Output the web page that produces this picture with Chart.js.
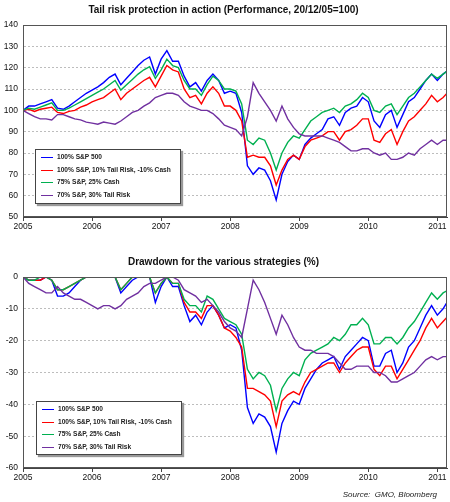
<!DOCTYPE html>
<html>
<head>
<meta charset="utf-8">
<script src="https://cdn.jsdelivr.net/npm/chart.js@4.4.1/dist/chart.umd.min.js"></script>
<style>
  body { margin: 0; background: #fff; font-family: "Liberation Sans", Arial, sans-serif; }
  #wrap { position: relative; width: 450px; height: 502px; overflow: hidden; }
  .pane { position: absolute; left: 0; }
  .legend { position: absolute; background: #fff; border: 1px solid #444; box-shadow: 2px 2px 1px #999;
            font: bold 6.6px "Liberation Sans", Arial, sans-serif; color: #222; padding-top: 1px; }
  .legend div { position: relative; height: 12.5px; line-height: 12.5px; padding-left: 21px; white-space: nowrap; }
  .legend span { position: absolute; left: 5px; top: 6px; width: 12px; border-top: 1px solid; }
  #src { position: absolute; right: 13px; top: 490px; font: italic 8px "Liberation Sans", Arial, sans-serif; color: #222; }
</style>
</head>
<body>
<div id="wrap">
  <div class="pane" style="top:0"><canvas id="perfChart" width="450" height="250"></canvas></div>
  <div class="pane" style="top:250px"><canvas id="ddChart" width="450" height="252"></canvas></div>
  <div class="legend" id="perfLegend" style="left:35px;top:149px;width:144px;height:52px"></div>
  <div class="legend" id="ddLegend" style="left:36px;top:401px;width:144px;height:51px"></div>
  <div id="src">Source:&nbsp; GMO, Bloomberg</div>
</div>
<script>
// month ends, Jan 2005 .. Mar 2011
const months = [
  '2005-01','2005-02','2005-03','2005-04','2005-05','2005-06','2005-07','2005-08','2005-09','2005-10','2005-11','2005-12',
  '2006-01','2006-02','2006-03','2006-04','2006-05','2006-06','2006-07','2006-08','2006-09','2006-10','2006-11','2006-12',
  '2007-01','2007-02','2007-03','2007-04','2007-05','2007-06','2007-07','2007-08','2007-09','2007-10','2007-11','2007-12',
  '2008-01','2008-02','2008-03','2008-04','2008-05','2008-06','2008-07','2008-08','2008-09','2008-10','2008-11','2008-12',
  '2009-01','2009-02','2009-03','2009-04','2009-05','2009-06','2009-07','2009-08','2009-09','2009-10','2009-11','2009-12',
  '2010-01','2010-02','2010-03','2010-04','2010-05','2010-06','2010-07','2010-08','2010-09','2010-10','2010-11','2010-12',
  '2011-01','2011-02','2011-03'
];
const yearTicks = [2005, 2006, 2007, 2008, 2009, 2010, 2011];
const seriesNames = ['100% S&P 500', '100% S&P, 10% Tail Risk, -10% Cash', '75% S&P, 25% Cash', '70% S&P, 30% Tail Risk'];

// Performance, 20/12/05 = 100
const perfSP500 = [
  100, 102, 102, 103, 104, 105, 101, 100.5, 102, 104, 106, 108,
  109.5, 111, 113, 115.5, 117, 112, 115, 118, 121, 123.5, 125, 117,
  124, 128, 123, 123, 116, 111, 113, 109, 114, 117, 114, 108,
  109, 108, 99, 74, 70, 73, 72, 67, 58, 70, 76, 79,
  77, 84, 87, 89, 91, 96, 97, 93, 99, 101, 102, 106,
  104, 95, 92, 98, 100, 92, 98, 104, 106, 110, 114, 117,
  114, 117, 119
];
const perfTail10 = [
  100, 100.5, 99.5, 100.5, 101, 101.5, 99, 98.5, 99.5, 100, 101.5, 102.5,
  104, 105, 106, 108, 110, 105, 108, 110, 112, 114, 115.5, 111,
  116, 121, 119, 118, 110, 106, 107, 103, 108, 111, 108, 102,
  102, 100, 95, 78, 79, 78, 78, 74, 65, 72, 77, 79,
  77, 83, 86, 87, 88, 90, 90, 86, 90, 91, 93, 96,
  96, 86, 85, 89, 91, 84, 90, 95, 97, 100, 103, 107,
  104, 106, 109
];
const perfCash25 = [
  100, 101, 100.5, 101.5, 102.5, 103.5, 100, 100, 101, 102.5, 104, 105.5,
  107, 108.5, 110, 112, 114, 109.5, 112, 114.5, 117, 119, 120.5, 115,
  119, 124, 121, 120, 114, 110, 110, 107, 112, 116, 114, 110,
  110, 109, 103, 86, 84, 87, 86, 80, 72, 80, 85, 88,
  87, 91, 95, 97, 99, 100, 101, 99, 102, 103, 105, 108,
  106, 100, 99, 102, 103, 98, 102, 106, 108, 111, 114, 117,
  115, 117, 119
];
const perfTail30 = [
  100, 98.5, 97, 96, 96, 95.5, 98, 98, 97, 96, 95.5, 94.5,
  94, 93.5, 94.5, 94, 93.5, 95, 97, 99, 100, 102, 103.5, 106,
  107, 108, 108, 107, 104, 102, 101, 100, 100, 98.5, 96, 93,
  92, 91, 88, 97, 113, 108, 104, 100, 95, 102, 96, 92,
  89, 88, 88, 88, 88, 87, 86, 85, 83, 81, 81, 82,
  82, 80, 79, 80, 77, 77, 78, 80, 79, 82, 84, 86,
  84, 86, 86
];

// Drawdown (%)
const ddSP500 = [
  0, -1, -1, -1, 0, -1, -6, -6, -5, -3, -1, 0,
  0, 0, 0, 0, 0, -5, -3, -1, 0, 0, 0, -8,
  -3, 0, -3, -3, -9, -14, -12, -15, -11, -9, -12, -16,
  -15, -16, -23, -41, -46, -43, -44, -47, -55, -46, -42, -39,
  -40, -35, -32, -29, -27, -26, -25, -29, -25, -23, -21, -19,
  -20, -28, -28, -24, -23, -30, -27, -22, -20, -16, -12, -9,
  -12, -10, -7
];
const ddTail10 = [
  0, -1, -1, -1, 0, -1, -4, -4, -3, -2, -1, 0,
  0, 0, 0, 0, 0, -4, -2, 0, 0, 0, 0, -5,
  -2, 0, -2, -2, -8, -11, -11, -13, -9, -9, -12, -16,
  -17, -19, -22, -35, -35, -36, -37, -39, -47, -39, -37, -36,
  -37, -33, -30, -29, -28, -27, -27, -30, -27, -25, -23, -22,
  -22, -29, -31, -28, -28, -32, -29, -26, -23, -20, -16, -13,
  -16, -14, -12
];
const ddCash25 = [
  0, -1, -1, 0, 0, -1, -4, -4, -3, -2, -1, 0,
  0, 0, 0, 0, 0, -4, -2, 0, 0, 0, 0, -5,
  -2, 0, -2, -2, -7, -9, -9, -11, -6, -7, -10, -13,
  -14, -15, -18, -29, -32, -30, -31, -34, -42, -35, -32, -30,
  -31, -26, -24, -23, -22, -21, -19, -20, -18, -15, -15, -13,
  -15, -21, -21, -19, -19, -21, -19, -16, -14, -11, -8, -5,
  -7, -5, -4
];
const ddTail30 = [
  0, -2, -3, -4, -5, -5, -3, -5, -6, -7, -7, -8,
  -9, -10, -9, -9, -10, -9, -7, -6, -5, -3, -2, -2,
  -1, 0, 0, -1, -4, -5, -6, -8, -7, -9, -11, -14,
  -16, -17, -19, -10, -1, -4, -8, -13, -18, -12, -15, -19,
  -22, -23, -23, -24, -24, -24, -25, -27, -29, -29, -28, -28,
  -28, -30, -30, -31, -33, -33, -32, -31, -30, -28, -26, -25,
  -26, -25, -25
];

const lineColors = ['#0000ff', '#ff0000', '#00b050', '#7030a0'];
const FONT = '"Liberation Sans", Arial, sans-serif';
Chart.defaults.font.family = FONT;
Chart.defaults.color = '#111';

const xs = months.map(m => {
  const [y, mo] = m.split('-').map(Number);
  return y + (mo - 1) / 12;
});

const frame = {
  id: 'frame',
  afterDraw(chart) {
    const { ctx, chartArea: a } = chart;
    ctx.save();
    ctx.strokeStyle = '#555';
    ctx.lineWidth = 1;
    ctx.strokeRect(a.left + 0.5, a.top + 0.5, a.right - a.left - 1, a.bottom - a.top - 1);
    ctx.restore();
  }
};

function makeChart(id, title, titlePad, series, yMin, yMax, xAxisH) {
  return new Chart(document.getElementById(id), {
    type: 'line',
    data: {
      datasets: series.map((vals, i) => ({
        label: seriesNames[i],
        data: vals.map((v, j) => ({ x: xs[j], y: v })),
        borderColor: lineColors[i],
        borderWidth: 1.4,
        pointRadius: 0,
        tension: 0,
        fill: false,
        order: 4 - i
      }))
    },
    options: {
      responsive: false,
      animation: false,
      layout: { padding: { left: 0, right: 3, top: 0, bottom: 0 } },
      plugins: {
        legend: { display: false },
        tooltip: { enabled: false },
        title: { display: true, text: title, color: '#111', font: { size: 10, weight: 'bold' }, padding: titlePad }
      },
      scales: {
        x: {
          type: 'linear', min: 2005, max: 2011.14,
          afterBuildTicks: s => { s.ticks = yearTicks.map(v => ({ value: v })); },
          afterFit: s => { s.height = xAxisH; },
          grid: { drawOnChartArea: false, tickLength: 4, color: '#444' },
          border: { color: '#444' },
          ticks: { callback: v => String(v), font: { size: 8.5 }, color: '#111', padding: 1, maxRotation: 0, autoSkip: false }
        },
        y: {
          min: yMin, max: yMax,
          afterFit: s => { s.width = 23; },
          grid: { color: '#bdbdbd', drawTicks: false },
          border: { color: '#444', dash: [2, 2] },
          ticks: { stepSize: 10, font: { size: 8.5 }, color: '#111', padding: 5 }
        }
      }
    },
    plugins: [frame]
  });
}

function buildLegend(elId) {
  const el = document.getElementById(elId);
  seriesNames.forEach((name, i) => {
    const row = document.createElement('div');
    const swatch = document.createElement('span');
    swatch.style.borderColor = lineColors[i];
    row.appendChild(swatch);
    row.appendChild(document.createTextNode(name));
    el.appendChild(row);
  });
}

makeChart('perfChart', 'Tail risk protection in action (Performance, 20/12/05=100)', { top: 4, bottom: 9 },
  [perfSP500, perfTail10, perfCash25, perfTail30], 50, 140, 33);
makeChart('ddChart', 'Drawdown for the various strategies (%)', { top: 6, bottom: 9 },
  [ddSP500, ddTail10, ddCash25, ddTail30], -60, 0, 34);
buildLegend('perfLegend');
buildLegend('ddLegend');
</script>
</body>
</html>
